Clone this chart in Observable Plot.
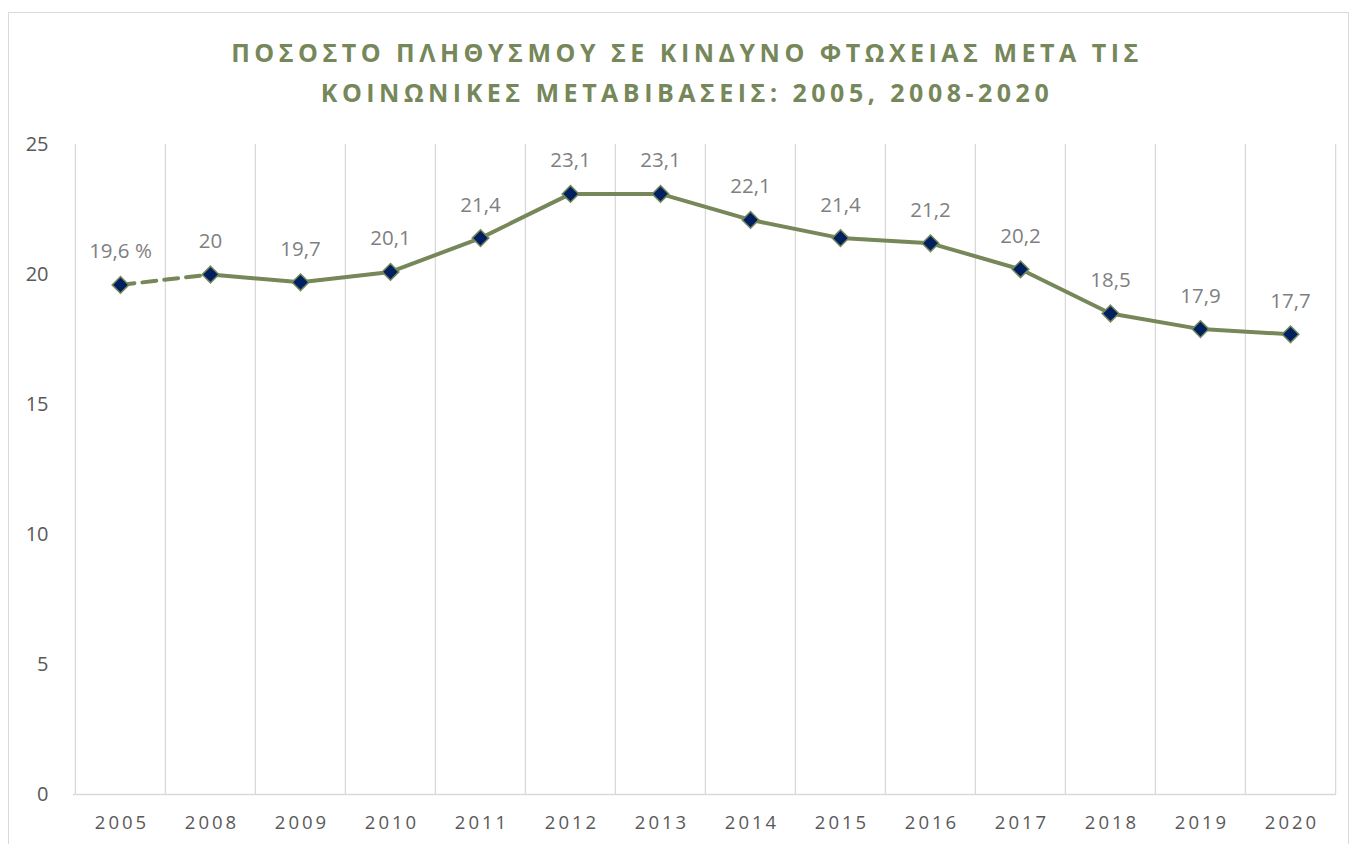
<!DOCTYPE html>
<html>
<head>
<meta charset="utf-8">
<script src="https://cdn.jsdelivr.net/npm/d3@7"></script>
<script src="https://cdn.jsdelivr.net/npm/@observablehq/plot@0.6"></script>
<style>
  html, body { margin: 0; padding: 0; background: #fff; }
  body { width: 1358px; height: 844px; position: relative; overflow: hidden; font-family: "Open Sans", sans-serif; }
  #frame { position: absolute; left: 8px; top: 12px; width: 1341px; height: 900px; border: 1px solid #d9d9d9; box-sizing: border-box; }
  #title { position: absolute; left: 0; top: 32px; width: 1374px; text-align: center; color: #76875a; font-weight: 700; font-size: 25px; letter-spacing: 4.5px; line-height: 40px; }
  #chart { position: absolute; left: 0; top: 0; }
  #chart g[aria-label="x-axis tick label"] text { letter-spacing: 3px; }
</style>
</head>
<body>
<div id="frame"></div>
<div id="title">ΠΟΣΟΣΤΟ ΠΛΗΘΥΣΜΟΥ ΣΕ ΚΙΝΔΥΝΟ ΦΤΩΧΕΙΑΣ ΜΕΤΑ ΤΙΣ<br>ΚΟΙΝΩΝΙΚΕΣ ΜΕΤΑΒΙΒΑΣΕΙΣ: 2005, 2008-2020</div>
<div id="chart"></div>
<script>
const years = ["2005","2008","2009","2010","2011","2012","2013","2014","2015","2016","2017","2018","2019","2020"];
const values = [19.6, 20, 19.7, 20.1, 21.4, 23.1, 23.1, 22.1, 21.4, 21.2, 20.2, 18.5, 17.9, 17.7];
const labels = ["19,6 %","20","19,7","20,1","21,4","23,1","23,1","22,1","21,4","21,2","20,2","18,5","17,9","17,7"];
const yTicks = [0, 5, 10, 15, 20, 25];

const data = years.map((y, i) => ({year: y, value: values[i], label: labels[i]}));

const W = 1358, H = 844;
const mL = 73, mR = 22, mT = 144, mB = 50;
const bw = (W - mL - mR) / years.length;
const green = "#76875a";

const chart = Plot.plot({
  width: W,
  height: H,
  marginLeft: mL,
  marginRight: mR,
  marginTop: mT,
  marginBottom: mB,
  style: {fontFamily: "'Open Sans', sans-serif", background: "transparent", overflow: "visible"},
  x: {type: "band", domain: years, padding: 0, label: null},
  y: {domain: [0, 25], label: null},
  marks: [
    Plot.ruleX(years, {x: d => d, y1: 0, y2: 25, dx: -bw / 2, stroke: "#d9d9d9", strokeWidth: 1.3}),
    Plot.ruleX(years.slice(-1), {x: d => d, y1: 0, y2: 25, dx: bw / 2, stroke: "#d9d9d9", strokeWidth: 1.3}),
    Plot.ruleY([0], {stroke: "#d9d9d9", strokeWidth: 1.3}),
    Plot.axisY({ticks: yTicks, tickSize: 0, tickPadding: 25, fontSize: 20, fill: "#595959", tickFormat: d => String(d)}),
    Plot.axisX({tickSize: 0, tickPadding: 21, fontSize: 18.5, fill: "#595959", dx: 1.5}),
    Plot.line(data.slice(0, 2), {x: "year", y: "value", stroke: green, strokeWidth: 4, strokeDasharray: "14,8"}),
    Plot.line(data.slice(1), {x: "year", y: "value", stroke: green, strokeWidth: 4}),
    Plot.dot(data, {x: "year", y: "value", symbol: "diamond2", r: 7.5, fill: "#002060", stroke: green, strokeWidth: 1.5}),
    Plot.text(data, {x: "year", y: "value", text: "label", dy: -33, fontSize: 20.5, fill: "#7f7f7f"})
  ]
});
document.getElementById("chart").appendChild(chart);
</script>
</body>
</html>
